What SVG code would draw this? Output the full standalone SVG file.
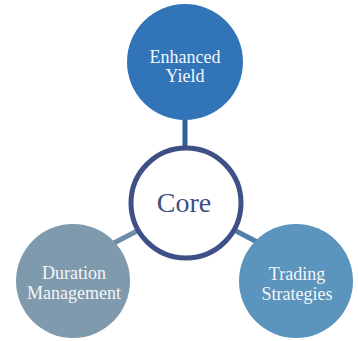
<svg xmlns="http://www.w3.org/2000/svg" width="358" height="341" viewBox="0 0 358 341">
<style>
.lbl{font-family:"Liberation Serif","Times New Roman",serif;font-size:18px;fill:#f4f6f9;text-anchor:middle}
.core{font-family:"Liberation Serif","Times New Roman",serif;font-size:28px;fill:#3f4f82;text-anchor:middle}
</style>
<rect width="358" height="341" fill="#ffffff"/>
<g id="connectors" stroke-width="5">
<line x1="185" y1="118" x2="185" y2="148" stroke="#2e5f97"/>
<line x1="112" y1="244" x2="137" y2="231" stroke="#6e8ca6"/>
<line x1="236" y1="231" x2="261" y2="244" stroke="#4f7ea8"/>
</g>
<g id="enhanced-yield">
<circle cx="185" cy="62" r="58" fill="#3175b8"/>
<text class="lbl" x="185" y="63">Enhanced</text>
<text class="lbl" x="185" y="82">Yield</text>
</g>
<g id="duration-management">
<circle cx="73" cy="281" r="57" fill="#7f9aac"/>
<text class="lbl" x="74" y="279">Duration</text>
<text class="lbl" x="74" y="299">Management</text>
</g>
<g id="trading-strategies">
<circle cx="296" cy="281" r="57" fill="#5b94bc"/>
<text class="lbl" x="297" y="280">Trading</text>
<text class="lbl" x="297" y="300">Strategies</text>
</g>
<g id="core">
<circle cx="186" cy="203" r="55" fill="#ffffff" stroke="#3f5086" stroke-width="5"/>
<text class="core" x="184" y="212">Core</text>
</g>
</svg>
